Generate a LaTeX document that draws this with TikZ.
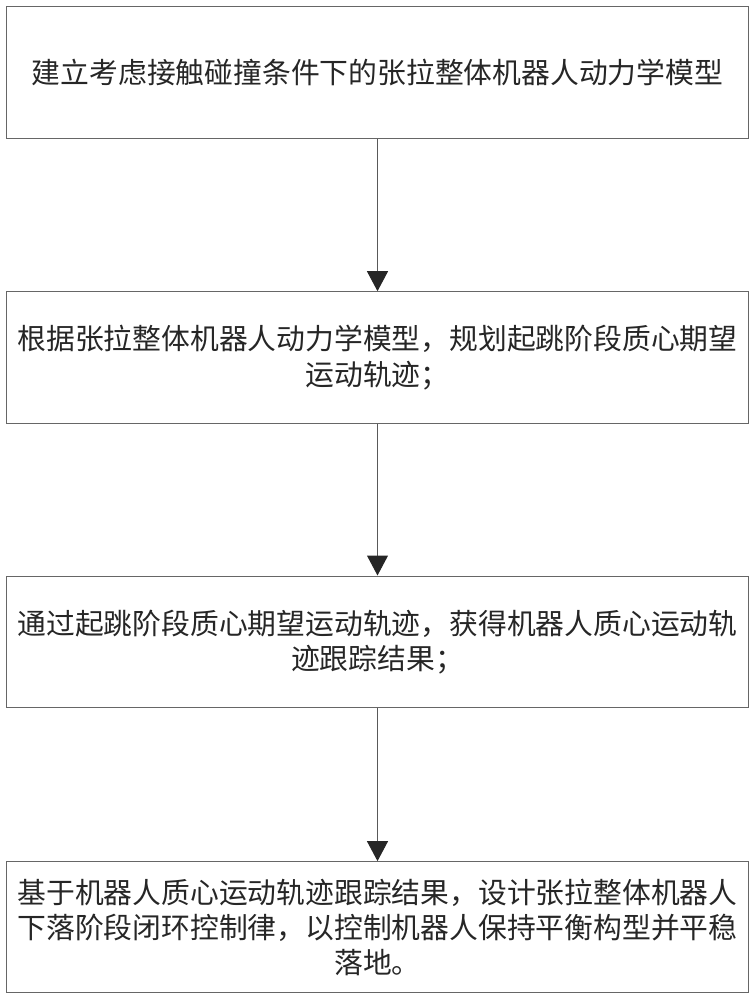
\documentclass[tikz,border=0pt]{standalone}
\usepackage{fontspec}
\newfontfamily\cjk{Noto Sans CJK SC}
\usetikzlibrary{arrows.meta}
\begin{document}
\begin{tikzpicture}[x=0.75pt,y=-0.75pt,
  stepbox/.style={draw=black!60,line width=0.75pt,rectangle,minimum width=556.5pt,inner sep=0pt,align=center,text=black!85},
  bodytext/.style={font=\cjk\fontsize{21.6pt}{26.5pt}\selectfont},
  flow/.style={draw=black!65,line width=0.75pt,-{Triangle[width=15.75pt,length=15pt,color=black!85]}}]
\useasboundingbox (0,0) rectangle (756,1000);
\node[stepbox,bodytext,minimum height=98.6pt] (s1) at (377.5,72.3) {建立考虑接触碰撞条件下的张拉整体机器人动力学模型};
\node[stepbox,bodytext,minimum height=98.7pt] (s2) at (377.5,357.5) {根据张拉整体机器人动力学模型，规划起跳阶段质心期望\\运动轨迹；};
\node[stepbox,bodytext,minimum height=98.7pt] (s3) at (377.5,641.8) {通过起跳阶段质心期望运动轨迹，获得机器人质心运动轨\\迹跟踪结果；};
\node[stepbox,bodytext,minimum height=98.5pt] (s4) at (377.5,927.3) {基于机器人质心运动轨迹跟踪结果，设计张拉整体机器人\\下落阶段闭环控制律，以控制机器人保持平衡构型并平稳\\落地。};
\draw[flow] (s1) -- (s2);
\draw[flow] (s2) -- (s3);
\draw[flow] (s3) -- (s4);
\end{tikzpicture}
\end{document}
